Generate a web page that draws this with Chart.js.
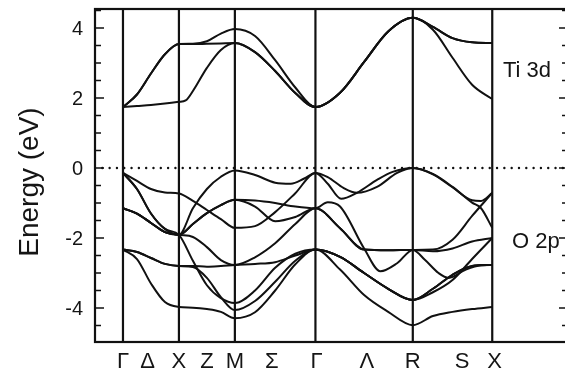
<!DOCTYPE html>
<html>
<head>
<meta charset="utf-8">
<script src="https://cdn.jsdelivr.net/npm/chart.js@4"></script>
<style>
  html, body { margin: 0; padding: 0; background: #fff; overflow: hidden; width: 565px; height: 372px; }
  #wrap { width: 572px; height: 372px; position: relative; }
</style>
</head>
<body>
<div id="wrap"><canvas id="bandsChart"></canvas></div>
<script>
// Structure de bandes le long du chemin Γ-X-M-Γ-R-X.

// --- Axes ---
const kSym = [0, 0.5, 1.0, 1.72, 2.59, 3.30];            // points de haute symétrie
const kLabels = ['Γ', 'Δ', 'X', 'Z', 'M', 'Σ', 'Γ', 'Λ', 'R', 'S', 'X'];
const kLabelPos = [0, 0.22, 0.5, 0.75, 1.0, 1.33, 1.73, 2.18, 2.59, 3.03, 3.32];
const kMin = -0.25;
const kMax = 3.977;
const eMin = -4.971;
const eMax = 4.543;
const eTicks = [4, 2, 0, -2, -4];

// --- Bandes Ti 3d : [k, E (eV)] ---
const ti3dA = [[0,1.74],[0.125,1.77],[0.25,1.8],[0.375,1.84],[0.5,1.89],[0.56,1.93],[0.625,2.2],[0.75,2.86],[0.875,3.37],[1.0,3.57],[1.18,3.31],[1.36,2.77],[1.54,2.14],[1.72,1.74],[1.94,2.15],[2.155,3.03],[2.37,3.9],[2.59,4.29],[2.77,3.95],[2.945,3.15],[3.12,2.38],[3.3,1.97]];
const ti3dB = [[0,1.74],[0.125,2.1],[0.25,2.7],[0.375,3.25],[0.5,3.54],[0.625,3.54],[0.75,3.55],[0.875,3.56],[1.0,3.57],[1.18,3.31],[1.36,2.77],[1.54,2.14],[1.72,1.74],[1.94,2.15],[2.155,3.03],[2.37,3.9],[2.59,4.29],[2.77,4.03],[2.945,3.71],[3.12,3.59],[3.3,3.57]];
const ti3dC = [[0,1.74],[0.125,2.1],[0.25,2.7],[0.375,3.25],[0.5,3.54],[0.625,3.55],[0.75,3.62],[0.875,3.84],[1.0,3.97],[1.18,3.77],[1.36,3.08],[1.54,2.3],[1.72,1.74],[1.94,2.15],[2.155,3.03],[2.37,3.9],[2.59,4.29],[2.77,4.03],[2.945,3.71],[3.12,3.59],[3.3,3.57]];

// --- Bandes O 2p ---
const o2p1 = [[0,-0.14],[0.125,-0.37],[0.25,-0.6],[0.375,-0.7],[0.5,-0.73],[0.625,-0.94],[0.75,-1.2],[0.875,-1.46],[1.0,-1.71],[1.18,-1.66],[1.36,-1.26],[1.54,-0.72],[1.72,-0.14],[1.83,-0.45],[1.95,-0.88],[2.09,-0.71],[2.27,-0.34],[2.41,-0.11],[2.59,0],[2.77,-0.18],[2.945,-0.55],[3.12,-0.92],[3.2,-0.94],[3.3,-0.71]];
const o2p2 = [[0,-0.14],[0.125,-0.6],[0.25,-1.3],[0.375,-1.74],[0.5,-1.91],[0.625,-1.15],[0.75,-0.6],[0.875,-0.25],[1.0,-0.07],[1.18,-0.2],[1.36,-0.42],[1.5,-0.45],[1.62,-0.3],[1.72,-0.14],[1.83,-0.26],[1.97,-0.57],[2.09,-0.71],[2.27,-0.54],[2.45,-0.14],[2.59,0],[2.77,-0.17],[2.945,-0.54],[3.12,-0.99],[3.2,-1.15],[3.3,-1.71]];
const o2p3 = [[0,-0.14],[0.125,-0.6],[0.25,-1.3],[0.375,-1.74],[0.5,-1.91],[0.625,-2.65],[0.75,-3.35],[0.875,-3.72],[1.0,-3.86],[1.18,-3.5],[1.36,-2.85],[1.54,-2.45],[1.72,-2.33],[1.94,-2.54],[2.155,-3.0],[2.37,-3.45],[2.59,-3.77],[2.77,-3.55],[2.945,-3.2],[3.12,-2.6],[3.3,-2.0]];
const o2p4 = [[0,-1.15],[0.125,-1.3],[0.25,-1.57],[0.375,-1.83],[0.5,-1.91],[0.625,-1.6],[0.75,-1.29],[0.875,-1.06],[1.0,-0.91],[1.18,-0.93],[1.36,-1.0],[1.54,-1.1],[1.72,-1.15],[1.83,-0.98],[1.94,-1.1],[2.155,-2.3],[2.3,-2.95],[2.45,-2.72],[2.59,-2.34],[2.77,-2.33],[2.945,-2.05],[3.12,-1.37],[3.3,-0.71]];
const o2p5 = [[0,-1.15],[0.125,-1.3],[0.25,-1.57],[0.375,-1.83],[0.5,-1.91],[0.625,-1.97],[0.75,-2.26],[0.875,-2.63],[1.0,-2.77],[1.18,-2.55],[1.36,-2.15],[1.54,-1.6],[1.72,-1.15],[1.94,-1.72],[2.155,-2.33],[2.37,-2.35],[2.59,-2.34],[2.77,-2.38],[2.945,-2.3],[3.12,-2.1],[3.3,-2.0]];
const o2p6 = [[0,-1.15],[0.125,-1.3],[0.25,-1.57],[0.375,-1.83],[0.5,-1.91],[0.625,-1.6],[0.75,-1.29],[0.875,-1.06],[1.0,-0.91],[1.18,-1.1],[1.36,-1.52],[1.54,-1.4],[1.72,-1.15],[1.94,-1.72],[2.155,-2.33],[2.37,-2.35],[2.59,-2.34],[2.7,-2.63],[2.82,-3.0],[2.91,-3.14],[3.06,-2.91],[3.2,-2.78],[3.3,-2.77]];
const o2p7 = [[0,-2.33],[0.125,-2.4],[0.25,-2.57],[0.375,-2.74],[0.5,-2.8],[0.625,-2.8],[0.75,-2.82],[0.875,-2.8],[1.0,-2.77],[1.18,-2.74],[1.36,-2.69],[1.54,-2.5],[1.72,-2.33],[1.94,-2.54],[2.155,-3.0],[2.37,-3.45],[2.59,-3.77],[2.77,-3.45],[2.945,-3.05],[3.12,-2.8],[3.3,-2.77]];
const o2p8 = [[0,-2.33],[0.125,-2.4],[0.25,-2.57],[0.375,-2.74],[0.5,-2.8],[0.625,-2.83],[0.75,-3.14],[0.875,-3.69],[1.0,-4.06],[1.18,-3.8],[1.36,-3.25],[1.54,-2.65],[1.72,-2.33],[1.94,-2.9],[2.155,-3.63],[2.37,-4.11],[2.59,-4.49],[2.77,-4.23],[2.945,-4.11],[3.12,-4.03],[3.3,-3.97]];
const o2p9 = [[0,-2.33],[0.125,-2.6],[0.25,-3.3],[0.375,-3.83],[0.5,-3.97],[0.625,-3.99],[0.75,-4.03],[0.875,-4.11],[1.0,-4.29],[1.18,-4.12],[1.36,-3.5],[1.54,-2.75],[1.72,-2.33],[1.94,-2.54],[2.155,-3.0],[2.37,-3.45],[2.59,-3.77],[2.77,-3.45],[2.945,-3.05],[3.12,-2.8],[3.3,-2.77]];

const bands = [ti3dA, ti3dB, ti3dC, o2p1, o2p2, o2p3, o2p4, o2p5, o2p6, o2p7, o2p8, o2p9];

const ink = '#111111';
const font = '"Liberation Sans", Arial, Helvetica, sans-serif';

const toPoints = (band) => band.map(([k, e]) => ({ x: k, y: e }));

const zeroLine = {
  data: [{ x: kMin, y: 0 }, { x: kMax, y: 0 }],
  borderColor: ink,
  borderWidth: 2.4,
  borderDash: [0.01, 7.3],
  borderCapStyle: 'round',
  pointRadius: 0,
};

const symLines = kSym.map((k) => ({
  data: [{ x: k, y: eMin }, { x: k, y: eMax }],
  borderColor: ink,
  borderWidth: 2.2,
  pointRadius: 0,
}));

const bandSets = bands.map((band) => ({
  data: toPoints(band),
  borderColor: ink,
  borderWidth: 2,
  cubicInterpolationMode: 'monotone',
  pointRadius: 0,
  fill: false,
}));

// Cadre, graduations intérieures et textes
const frameAndText = {
  id: 'frameAndText',
  afterDatasetsDraw(chart) {
    const { ctx, chartArea: a, scales: { x, y } } = chart;
    ctx.save();
    ctx.strokeStyle = ink;
    ctx.lineWidth = 2.2;
    ctx.strokeRect(a.left, a.top, a.right - a.left, a.bottom - a.top);

    ctx.lineWidth = 1.6;
    for (let i = -9; i <= 9; i++) {
      const py = y.getPixelForValue(i / 2);
      const len = i % 4 === 0 ? 9 : 6;
      ctx.beginPath();
      ctx.moveTo(a.left, py); ctx.lineTo(a.left + len, py);
      ctx.moveTo(a.right, py); ctx.lineTo(a.right - len, py);
      ctx.stroke();
    }

    ctx.fillStyle = '#151515';
    ctx.font = `20px ${font}`;
    ctx.textAlign = 'right';
    ctx.textBaseline = 'middle';
    eTicks.forEach((v) => ctx.fillText(String(v), a.left - 12, y.getPixelForValue(v) + 1));

    ctx.font = `22px ${font}`;
    ctx.textAlign = 'center';
    ctx.textBaseline = 'alphabetic';
    kLabels.forEach((lab, i) => ctx.fillText(lab, x.getPixelForValue(kLabelPos[i]), a.bottom + 26));

    ctx.font = `22px ${font}`;
    ctx.textAlign = 'left';
    ctx.fillText('Ti 3d', x.getPixelForValue(3.396), y.getPixelForValue(2.6));
    ctx.fillText('O 2p', x.getPixelForValue(3.476), y.getPixelForValue(-2.29));

    ctx.translate(38, y.getPixelForValue(-0.4));
    ctx.rotate(-Math.PI / 2);
    ctx.font = `28px ${font}`;
    ctx.textAlign = 'center';
    ctx.fillText('Energy (eV)', 0, 0);
    ctx.restore();
  },
};

new Chart(document.getElementById('bandsChart'), {
  type: 'line',
  data: { datasets: [zeroLine, ...symLines, ...bandSets] },
  options: {
    responsive: true,
    maintainAspectRatio: false,
    animation: false,
    layout: { padding: { left: 95, top: 9, right: 4, bottom: 30 } },
    plugins: { legend: { display: false }, tooltip: { enabled: false } },
    scales: {
      x: { type: 'linear', display: false, min: kMin, max: kMax },
      y: { type: 'linear', display: false, min: eMin, max: eMax },
    },
  },
  plugins: [frameAndText],
});
</script>
</body>
</html>
